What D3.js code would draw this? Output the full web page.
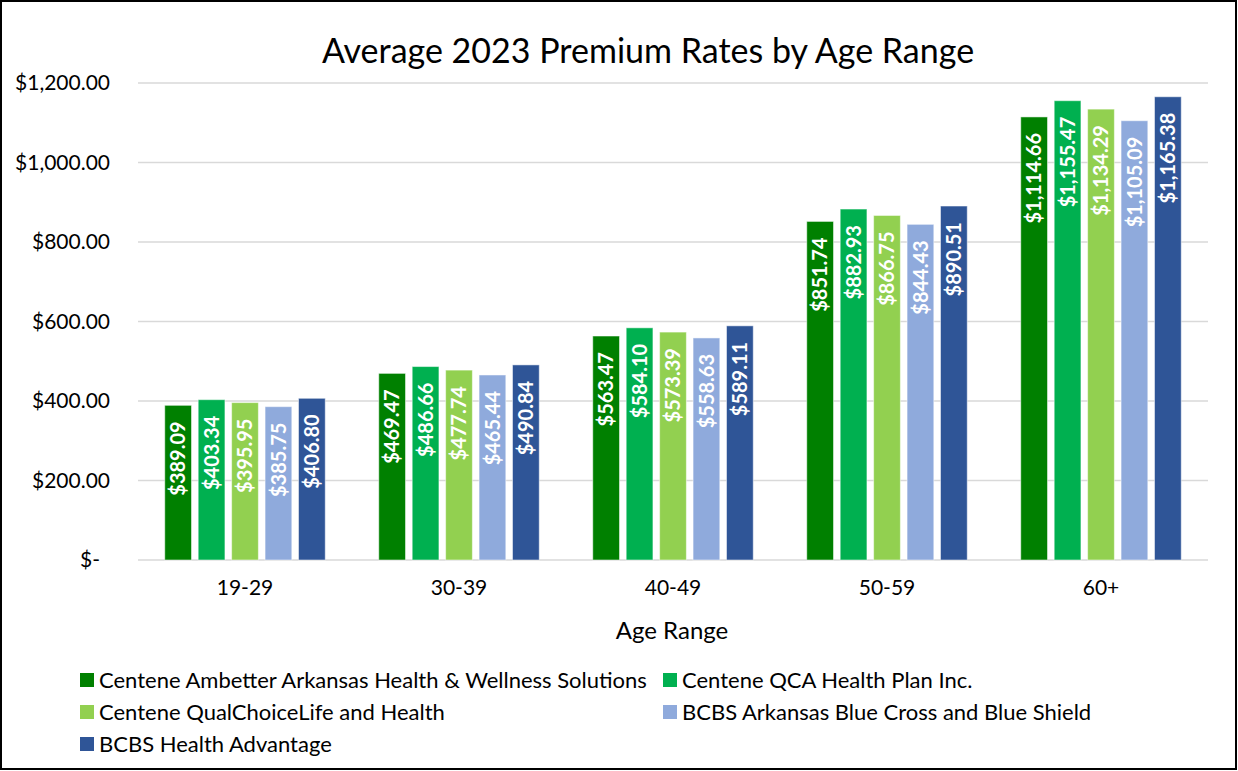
<!DOCTYPE html>
<html>
<head>
<meta charset="utf-8">
<script src="https://cdn.jsdelivr.net/npm/d3@7"></script>
<style>
  body { margin: 0; background: #fff; }
  svg { display: block; font-family: Lato, "Open Sans", sans-serif; }
</style>
</head>
<body>
<svg id="chart" width="1238" height="771"></svg>
<script>
const ageRanges = ["19-29", "30-39", "40-49", "50-59", "60+"];
const carriers = [
  "Centene Ambetter Arkansas Health & Wellness Solutions",
  "Centene QCA Health Plan Inc.",
  "Centene QualChoiceLife and Health",
  "BCBS Arkansas Blue Cross and Blue Shield",
  "BCBS Health Advantage"
];
const ambetter = [389.09, 469.47, 563.47, 851.74, 1114.66];
const qca = [403.34, 486.66, 584.10, 882.93, 1155.47];
const qualChoice = [395.95, 477.74, 573.39, 866.75, 1134.29];
const bcbsArkansas = [385.75, 465.44, 558.63, 844.43, 1105.09];
const healthAdvantage = [406.80, 490.84, 589.11, 890.51, 1165.38];
const yTicks = [0, 200, 400, 600, 800, 1000, 1200];
const colors = ["#008000", "#00b050", "#92d050", "#8faadc", "#2f5597"];

const series = [ambetter, qca, qualChoice, bcbsArkansas, healthAdvantage];

const svg = d3.select("#chart");
const margin = { top: 83, right: 30, bottom: 211, left: 138 };
const width = 1238 - margin.left - margin.right;
const height = 771 - margin.top - margin.bottom;

// chart border
svg.append("rect")
  .attr("x", 1).attr("y", 1)
  .attr("width", 1235).attr("height", 768)
  .attr("fill", "#fff")
  .attr("stroke", "#000")
  .attr("stroke-width", 2);

const g = svg.append("g").attr("transform", `translate(${margin.left},${margin.top})`);

const x0 = d3.scaleBand().domain(ageRanges).range([0, width])
  .paddingInner(0.25).paddingOuter(0.125);
const x1 = d3.scaleBand().domain(d3.range(carriers.length)).range([0, x0.bandwidth()])
  .paddingInner(0.2);
const y = d3.scaleLinear().domain([0, 1200]).range([height, 0]);

// gridlines
g.append("g")
  .selectAll("line")
  .data(yTicks)
  .join("line")
  .attr("x1", 0).attr("x2", width)
  .attr("y1", d => y(d)).attr("y2", d => y(d))
  .attr("stroke", "#d9d9d9")
  .attr("stroke-width", 1.5);

// y axis labels
const fmt = d3.format("$,.2f");
const yAxis = g.append("g")
  .call(d3.axisLeft(y).tickValues(yTicks).tickSize(0).tickPadding(28)
    .tickFormat(d => d === 0 ? "$-" : fmt(d)));
yAxis.select(".domain").remove();
yAxis.selectAll("text")
  .style("font-size", "21px")
  .style("font-family", "Lato, sans-serif")
  .attr("fill", "#000")
  .attr("dx", d => d === 0 ? -10 : 0);

// x axis labels
const xAxis = g.append("g")
  .attr("transform", `translate(0,${height})`)
  .call(d3.axisBottom(x0).tickSize(0).tickPadding(20));
xAxis.select(".domain").remove();
xAxis.selectAll("text")
  .style("font-size", "21px")
  .style("font-family", "Lato, sans-serif")
  .attr("fill", "#000");

// bars
const groups = g.selectAll(".grp")
  .data(ageRanges)
  .join("g")
  .attr("class", "grp")
  .attr("transform", d => `translate(${x0(d)},0)`);

groups.selectAll("rect")
  .data((d, i) => series.map((s, k) => ({ k, v: s[i] })))
  .join("rect")
  .attr("x", d => x1(d.k))
  .attr("y", d => y(d.v))
  .attr("width", x1.bandwidth())
  .attr("height", d => height - y(d.v))
  .attr("fill", d => colors[d.k])
  .attr("stroke", "#ffffff")
  .attr("stroke-opacity", 0.5)
  .attr("stroke-width", 1);

groups.selectAll("text")
  .data((d, i) => series.map((s, k) => ({ k, v: s[i] })))
  .join("text")
  .attr("transform", d => `translate(${x1(d.k) + x1.bandwidth() / 2},${y(d.v) + 16}) rotate(-90)`)
  .attr("text-anchor", "end")
  .attr("dy", "0.36em")
  .attr("fill", "#fff")
  .style("font-size", "20px")
  .style("font-weight", "bold")
  .text(d => fmt(d.v));

// title
svg.append("text")
  .attr("x", 648).attr("y", 63)
  .attr("text-anchor", "middle")
  .style("font-size", "34px")
  .text("Average 2023 Premium Rates by Age Range");

// x axis title
svg.append("text")
  .attr("x", 672).attr("y", 639)
  .attr("text-anchor", "middle")
  .style("font-size", "24px")
  .text("Age Range");

// legend
const legendPos = [
  { x: 80, y: 680 }, { x: 663, y: 680 },
  { x: 80, y: 712 }, { x: 663, y: 712 },
  { x: 80, y: 744 }
];
const legend = svg.append("g")
  .selectAll("g")
  .data(carriers)
  .join("g")
  .attr("transform", (d, i) => `translate(${legendPos[i].x},${legendPos[i].y})`);
legend.append("rect")
  .attr("x", 0).attr("y", -7)
  .attr("width", 14).attr("height", 14)
  .attr("fill", (d, i) => colors[i]);
legend.append("text")
  .attr("x", 19).attr("dy", "0.36em")
  .style("font-size", "22px")
  .text(d => d);
</script>
</body>
</html>
